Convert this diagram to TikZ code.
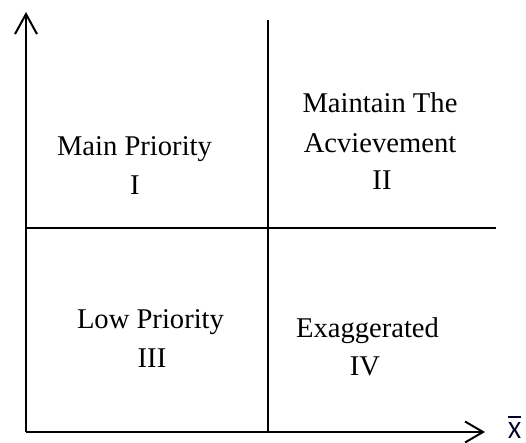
\documentclass[tikz,border=0pt]{standalone}
\usepackage{fontspec}
\setmainfont{Liberation Serif}
\newfontfamily\xfont{Carlito}
\usetikzlibrary{arrows.meta}
\begin{document}
\begin{tikzpicture}[x=1pt,y=-1pt,
  axisline/.style={line width=2pt,black},
  divline/.style={line width=2pt,black},
  qtext/.style={anchor=base,inner sep=0pt,font=\fontsize{28.6}{38.5}\selectfont},
  ytip/.style={-{Straight Barb[length=20pt,width=22pt]}},
  xtip/.style={-{Straight Barb[length=18pt,width=21pt]}}]
\useasboundingbox (0,0) rectangle (526,443);
\coordinate (O) at (26,432);
\coordinate (Ytop) at (26,12);
\coordinate (Xend) at (485,432);
\coordinate (Vtop) at (268,20);
\coordinate (Vbot) at (268,432);
\coordinate (Hl) at (26,228);
\coordinate (Hr) at (496,228);
\draw[axisline,ytip] (O) -- (Ytop);
\draw[axisline,xtip] (O) -- (Xend);
\draw[divline] (Vtop) -- (Vbot);
\draw[divline] (Hl) -- (Hr);
% quadrant I
\node[qtext] (q1a) at (134.5,156) {Main Priority};
\node[qtext] (q1b) at (135,195) {I};
% quadrant II
\node[qtext] (q2a) at (380,113) {Maintain The};
\node[qtext] (q2b) at (380,153) {Acvievement};
\node[qtext] (q2c) at (382,190) {II};
% quadrant III
\node[qtext] (q3a) at (150.5,328) {Low Priority};
\node[qtext] (q3b) at (152,367) {III};
% quadrant IV
\node[qtext] (q4a) at (367.5,337) {Exaggerated};
\node[qtext] (q4b) at (365,375) {IV};
% x-bar label
\node[anchor=base,inner sep=0pt,font=\fontsize{25}{30}\selectfont\xfont,text=black!85!blue] (xlab) at (514.5,438.5) {X};
\draw[line width=2pt,black!85!blue] ([yshift=5pt]xlab.north west) -- ([yshift=5pt]xlab.north east);
\end{tikzpicture}
\end{document}
